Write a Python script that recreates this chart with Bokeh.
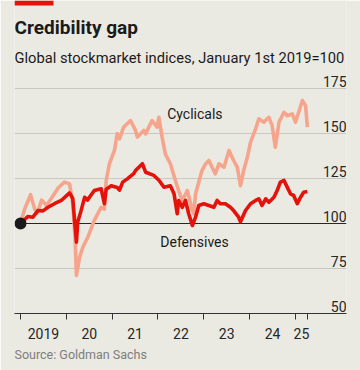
from bokeh.plotting import figure
from bokeh.models import (FixedTicker, Label, BoxAnnotation, ColumnDataSource, Range1d, Title)
from bokeh.core.properties import value
from bokeh.embed import file_html
from bokeh.resources import INLINE

# ---------------- data ----------------
cyc_x = [2019.00, 2019.09, 2019.22, 2019.31, 2019.37, 2019.46, 2019.57, 2019.70, 2019.83,
         2019.96, 2020.07, 2020.14, 2020.19, 2020.22, 2020.29, 2020.36, 2020.47, 2020.61,
         2020.76, 2020.83, 2020.87, 2020.94, 2021.05, 2021.11, 2021.16, 2021.25, 2021.40,
         2021.51, 2021.55, 2021.69, 2021.73, 2021.87, 2021.98, 2022.02, 2022.09, 2022.16,
         2022.27, 2022.38, 2022.45, 2022.53, 2022.64, 2022.75, 2022.78, 2022.82, 2022.89,
         2022.96, 2023.04, 2023.11, 2023.18, 2023.25, 2023.33, 2023.44, 2023.55, 2023.65,
         2023.73, 2023.80, 2023.87, 2023.95, 2024.02, 2024.13, 2024.20, 2024.31, 2024.42,
         2024.49, 2024.56, 2024.64, 2024.75, 2024.82, 2024.93, 2025.00, 2025.07, 2025.15,
         2025.22, 2025.26]
cyc_y = [100.0, 108.0, 116.0, 108.0, 106.0, 113.0, 110.0, 115.0, 120.0,
         123.0, 122.0, 111.0, 92.4, 71.1, 81.3, 86.8, 92.4, 101.7,
         109.0, 108.0, 123.9, 133.2, 140.6, 150.0, 147.0, 153.5, 157.2,
         151.7, 148.0, 151.7, 149.8, 157.2, 153.5, 159.0, 148.0, 138.7,
         133.2, 123.9, 118.3, 112.8, 118.3, 107.2, 105.4, 116.5, 123.0,
         129.4, 133.2, 135.0, 131.3, 127.6, 133.2, 131.3, 140.6, 135.0,
         131.3, 121.0, 129.4, 136.8, 145.2, 152.6, 158.2, 156.3, 159.0,
         154.5, 142.4, 156.3, 161.8, 159.9, 160.9, 156.3, 161.8, 168.3,
         165.5, 153.5]

def_x = [2019.00, 2019.16, 2019.27, 2019.38, 2019.49, 2019.60, 2019.74, 2019.89, 2020.07,
         2020.14, 2020.18, 2020.22, 2020.25, 2020.32, 2020.40, 2020.46, 2020.61, 2020.76,
         2020.83, 2020.87, 2020.98, 2021.11, 2021.16, 2021.23, 2021.33, 2021.47, 2021.51,
         2021.66, 2021.73, 2021.91, 2022.02, 2022.13, 2022.27, 2022.35, 2022.42, 2022.45,
         2022.53, 2022.60, 2022.67, 2022.75, 2022.82, 2022.89, 2023.00, 2023.11, 2023.22,
         2023.29, 2023.36, 2023.47, 2023.58, 2023.65, 2023.76, 2023.80, 2023.91, 2024.02,
         2024.13, 2024.20, 2024.27, 2024.35, 2024.42, 2024.53, 2024.60, 2024.67, 2024.75,
         2024.82, 2024.89, 2024.96, 2025.04, 2025.11, 2025.18, 2025.26]
def_y = [100.0, 103.9, 103.5, 107.2, 107.0, 109.0, 111.0, 112.8, 117.0,
         114.0, 101.7, 89.6, 101.0, 107.0, 114.6, 113.0, 118.3, 119.3,
         111.0, 119.0, 121.0, 120.0, 118.5, 123.0, 124.8, 127.7, 129.4,
         133.2, 128.5, 126.7, 124.0, 120.2, 121.0, 116.5, 105.4, 112.8,
         109.0, 112.8, 105.4, 98.9, 103.5, 110.0, 111.0, 110.0, 109.0,
         112.8, 111.0, 111.0, 109.0, 107.2, 103.5, 101.0, 107.2, 111.0,
         112.8, 113.7, 110.0, 113.7, 111.8, 114.6, 118.3, 123.0, 123.9,
         120.2, 116.5, 115.6, 111.0, 114.6, 117.4, 117.8]

year_ticks = [2019, 2020, 2021, 2022, 2023, 2024, 2025, 2025.26]
year_labels = ["2019", "20", "21", "22", "23", "24", "25"]
y_ticks = [50, 75, 100, 125, 150, 175]
y_labels = ["50", "75", "100", "125", "150", "175"]

# ---------------- styling ----------------
BG = "#ebeae2"
RED = "#e3120b"
SALMON = "#f6a48c"
FONT = "Roboto"

PX_PER_YEAR = 45.83
PX_PER_UNIT = 1.8
X0 = 2019 - 6 / PX_PER_YEAR
X1 = 2019 + 326 / PX_PER_YEAR
Y0 = 50
Y1 = 50 + 313 / PX_PER_UNIT  # frame reaches the top of the canvas

p = figure(width=360, height=370, output_backend="svg", toolbar_location=None,
           x_range=Range1d(X0, X1), y_range=Range1d(Y0, Y1),
           min_border_left=14, min_border_right=14, min_border_top=0, min_border_bottom=57)
p.background_fill_color = BG
p.border_fill_color = BG
p.outline_line_color = None

# grid
p.xgrid.visible = False
p.yaxis.visible = False
p.ygrid.ticker = FixedTicker(ticks=[t for t in y_ticks if t not in (50, 100)])
p.ygrid.grid_line_color = "#c9c8c0"
p.ygrid.grid_line_width = 1

# x axis
label_pos = [(year_ticks[i] + year_ticks[i + 1]) / 2 for i in range(len(year_labels))]
p.xaxis.ticker = FixedTicker(ticks=label_pos, minor_ticks=year_ticks)
p.xaxis.major_label_overrides = {pos: lab for pos, lab in zip(label_pos, year_labels)}
p.xaxis.major_tick_out = 0
p.xaxis.major_tick_in = 0
p.xaxis.minor_tick_out = 6
p.xaxis.minor_tick_in = 0
p.xaxis.minor_tick_line_color = "#333333"
p.xaxis.minor_tick_line_width = 1
p.xaxis.axis_line_color = "#333333"
p.xaxis.axis_line_width = 1
p.xaxis.major_label_standoff = 8
p.xaxis.major_label_text_font = FONT
p.xaxis.major_label_text_font_size = "14px"
p.xaxis.major_label_text_color = "#262626"

# baseline at 100
p.line(x=[cyc_x[0], X1], y=[100, 100], line_color="#262626", line_width=1.2)

# series
p.line(cyc_x, cyc_y, line_color=SALMON, line_width=3.6, line_join="round")
p.line(def_x, def_y, line_color=RED, line_width=3.6, line_join="round")
p.scatter([cyc_x[0]], [cyc_y[0]], size=12, fill_color="#1a1a1a", line_color=None)

# y tick labels (inside, right aligned above gridlines)
src = ColumnDataSource(dict(x=[X1] * len(y_ticks), y=y_ticks, t=y_labels))
p.text(x="x", y="y", text="t", source=src, text_align="right", text_baseline="bottom",
       y_offset=-2, text_font=value(FONT), text_font_size="14px", text_color="#262626")

# series labels
p.add_layout(Label(x=2022.2, y=161.1, text="Cyclicals", text_baseline="middle",
                   text_font=FONT, text_font_size="14px", text_color="#1a1a1a"))
p.add_layout(Label(x=2022.05, y=89.6, text="Defensives", text_baseline="middle",
                   text_font=FONT, text_font_size="14px", text_color="#1a1a1a"))

# header inside the (extended) frame
p.add_layout(Label(x=X0, y=Y1 - 27 / PX_PER_UNIT, text="Credibility gap",
                   text_baseline="middle", text_font=FONT, text_font_style="bold",
                   text_font_size="19px", text_color="#1a1a1a"))
p.add_layout(Label(x=X0, y=Y1 - 57 / PX_PER_UNIT,
                   text="Global stockmarket indices, January 1st 2019=100",
                   text_baseline="middle", text_font=FONT, text_font_size="14.7px",
                   text_color="#1a1a1a"))
p.add_layout(BoxAnnotation(left=X0, right=X0 + 39 / PX_PER_YEAR, top=Y1,
                           bottom=Y1 - 5 / PX_PER_UNIT,
                           fill_color=RED, fill_alpha=1, line_color=None))

# source below the axis
p.add_layout(Title(text="Source: Goldman Sachs", align="left", text_font=FONT,
                   text_font_size="12.5px", text_font_style="normal",
                   text_color="#7d7d7d", standoff=6), "below")

open("out.html", "w").write(file_html(p, INLINE))
